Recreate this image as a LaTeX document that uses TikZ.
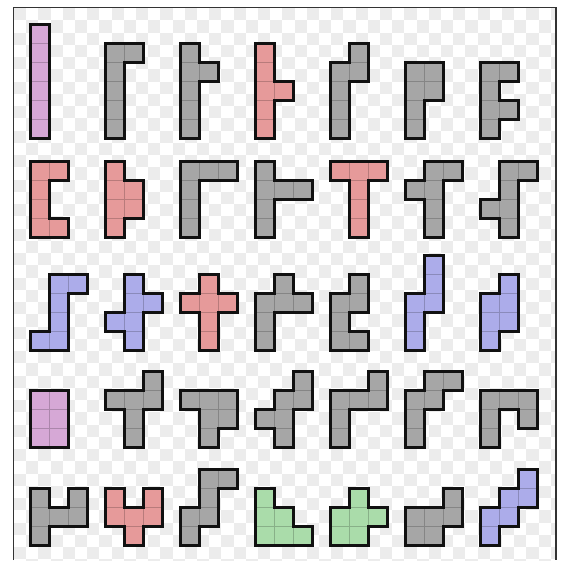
\documentclass[tikz,border=0pt]{standalone}
\definecolor{cpurple}{RGB}{214,168,214}
\definecolor{cgray}{RGB}{166,166,166}
\definecolor{cred}{RGB}{230,154,154}
\definecolor{cblue}{RGB}{172,172,234}
\definecolor{cgreen}{RGB}{170,220,170}
\definecolor{chk}{RGB}{236,236,236}
\definecolor{outc}{RGB}{17,17,17}
\def\cl{19}
\tikzset{
  outl/.style={line width=3pt, line cap=rect, draw=outc},
  innerl/.style={line width=0.7pt},
  framel/.style={line width=1.2pt, draw=black!80}
}
\makeatletter
\newcommand\hexpiece[4]{%
  \def\hxcells{,#4,}%
  \def\hxx{#1}\def\hxy{#2}%
  \foreach \i/\j in {#4}{\fill[#3] ({\hxx+\i*\cl},{\hxy-\j*\cl}) rectangle ({\hxx+(\i+1)*\cl},{\hxy-(\j+1)*\cl});}%
  \foreach \i/\j in {#4}{\draw[innerl,draw=#3!80!black] ({\hxx+\i*\cl},{\hxy-\j*\cl}) rectangle ({\hxx+(\i+1)*\cl},{\hxy-(\j+1)*\cl});}%
  \foreach \i/\j in {#4}{%
    \pgfmathtruncatemacro\hxip{\i+1}%
    \pgfmathtruncatemacro\hxim{\i-1}%
    \pgfmathtruncatemacro\hxjp{\j+1}%
    \pgfmathtruncatemacro\hxjm{\j-1}%
    \edef\hxtest{\noexpand\in@{,\hxip/\j,}{\hxcells}}\hxtest
    \ifin@\else\draw[outl] ({\hxx+(\i+1)*\cl},{\hxy-\j*\cl}) -- ({\hxx+(\i+1)*\cl},{\hxy-(\j+1)*\cl});\fi
    \edef\hxtest{\noexpand\in@{,\hxim/\j,}{\hxcells}}\hxtest
    \ifin@\else\draw[outl] ({\hxx+\i*\cl},{\hxy-\j*\cl}) -- ({\hxx+\i*\cl},{\hxy-(\j+1)*\cl});\fi
    \edef\hxtest{\noexpand\in@{,\i/\hxjp,}{\hxcells}}\hxtest
    \ifin@\else\draw[outl] ({\hxx+\i*\cl},{\hxy-(\j+1)*\cl}) -- ({\hxx+(\i+1)*\cl},{\hxy-(\j+1)*\cl});\fi
    \edef\hxtest{\noexpand\in@{,\i/\hxjm,}{\hxcells}}\hxtest
    \ifin@\else\draw[outl] ({\hxx+\i*\cl},{\hxy-\j*\cl}) -- ({\hxx+(\i+1)*\cl},{\hxy-\j*\cl});\fi
  }%
}
\makeatother
\begin{document}
\begin{tikzpicture}[x=1pt,y=-1pt]
\useasboundingbox (0,0) rectangle (564,560);
\fill[white] (0,0) rectangle (564,560);
\begin{scope}
\clip (14,8) rectangle (555.5,560);
\foreach \b in {0,...,45}{
  \pgfmathtruncatemacro\off{mod(\b,2)}
  \foreach \a in {0,2,...,44}{
    \fill[chk] ({14+(\a+\off)*12.2},{8+\b*12.25}) rectangle ++(12.2,12.25);
  }
}
\end{scope}
\draw[framel] (13.5,560) -- (13.5,7.5) -- (556,7.5) -- (556,560);
% Row 1
\hexpiece{30}{138.5}{cpurple}{0/0,0/1,0/2,0/3,0/4,0/5}
\hexpiece{105}{138.5}{cgray}{0/0,0/1,0/2,0/3,0/4,1/4}
\hexpiece{180}{138.5}{cgray}{0/0,0/1,0/2,0/3,0/4,1/3}
\hexpiece{255}{138.5}{cred}{0/0,0/1,0/2,0/3,0/4,1/2}
\hexpiece{330}{138.5}{cgray}{0/0,0/1,0/2,0/3,1/3,1/4}
\hexpiece{405}{138.5}{cgray}{0/0,0/1,0/2,0/3,1/2,1/3}
\hexpiece{480}{138.5}{cgray}{0/0,0/1,0/2,0/3,1/3,1/1}
% Row 2
\hexpiece{30}{237.5}{cred}{0/0,0/1,0/2,0/3,1/3,1/0}
\hexpiece{105}{237.5}{cred}{0/0,0/1,0/2,0/3,1/1,1/2}
\hexpiece{180}{237.5}{cgray}{0/0,0/1,0/2,0/3,1/3,2/3}
\hexpiece{255}{237.5}{cgray}{0/0,0/1,0/2,0/3,1/2,2/2}
\hexpiece{330}{237.5}{cred}{0/3,1/3,2/3,1/2,1/1,1/0}
\hexpiece{405}{237.5}{cgray}{1/3,2/3,0/2,1/2,1/1,1/0}
\hexpiece{480}{237.5}{cgray}{1/3,2/3,1/2,0/1,1/1,1/0}
% Row 3
\hexpiece{30}{350.5}{cblue}{1/3,2/3,1/2,1/1,0/0,1/0}
\hexpiece{105}{350.5}{cblue}{1/0,1/1,1/2,1/3,2/2,0/1}
\hexpiece{180}{350.5}{cred}{1/0,1/1,1/2,1/3,0/2,2/2}
\hexpiece{255}{350.5}{cgray}{1/3,0/2,1/2,2/2,0/1,0/0}
\hexpiece{330}{350.5}{cgray}{1/3,0/2,1/2,0/1,0/0,1/0}
\hexpiece{405}{350.5}{cblue}{1/4,1/3,1/2,0/2,0/1,0/0}
\hexpiece{480}{350.5}{cblue}{1/3,1/2,1/1,0/2,0/1,0/0}
% Row 4
\hexpiece{30}{447.5}{cpurple}{0/0,1/0,0/1,1/1,0/2,1/2}
\hexpiece{105}{447.5}{cgray}{2/3,0/2,1/2,2/2,1/1,1/0}
\hexpiece{180}{447.5}{cgray}{0/2,1/2,2/2,1/1,2/1,1/0}
\hexpiece{255}{447.5}{cgray}{2/3,1/2,2/2,0/1,1/1,1/0}
\hexpiece{330}{447.5}{cgray}{2/3,0/2,1/2,2/2,0/1,0/0}
\hexpiece{405}{447.5}{cgray}{1/3,2/3,0/2,1/2,0/1,0/0}
\hexpiece{480}{447.5}{cgray}{0/2,1/2,2/2,0/1,2/1,0/0}
% Row 5
\hexpiece{30}{545.5}{cgray}{0/2,2/2,0/1,1/1,2/1,0/0}
\hexpiece{105}{545.5}{cred}{0/2,2/2,0/1,1/1,2/1,1/0}
\hexpiece{180}{545.5}{cgray}{1/3,2/3,1/2,0/1,1/1,0/0}
\hexpiece{255}{545.5}{cgreen}{0/2,0/1,1/1,0/0,1/0,2/0}
\hexpiece{330}{545.5}{cgreen}{1/2,0/1,1/1,2/1,0/0,1/0}
\hexpiece{405}{545.5}{cgray}{2/2,0/1,1/1,2/1,0/0,1/0}
\hexpiece{480}{545.5}{cblue}{2/3,1/2,2/2,0/1,1/1,0/0}
\end{tikzpicture}
\end{document}
